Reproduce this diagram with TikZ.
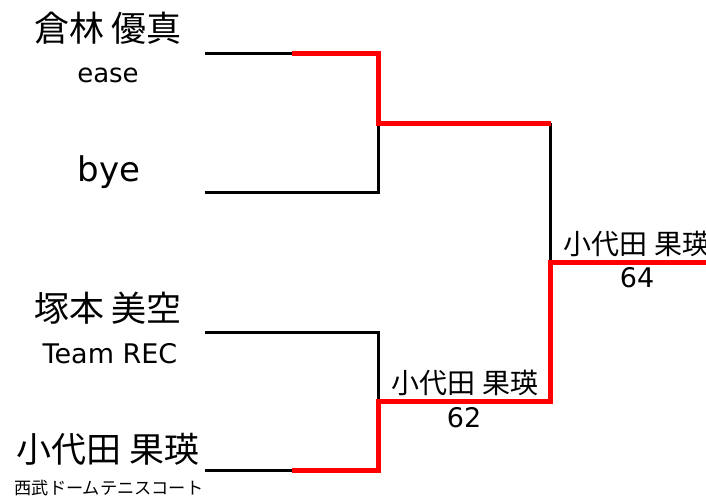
\documentclass[tikz,border=0pt]{standalone}
\usepackage{fontspec}
\setmainfont{Noto Sans CJK JP}
\newfontfamily\latinfont{DejaVu Sans}
\usepackage{tikz}
\usetikzlibrary{positioning}

\begin{document}
\begin{tikzpicture}[x=1pt,y=-1pt,
  player/.style={inner sep=0pt,font=\fontsize{35}{40}\selectfont},
  club/.style={inner sep=0pt,font=\latinfont\fontsize{26}{30}\selectfont},
  venue/.style={inner sep=0pt,font=\fontsize{17.2}{20}\selectfont},
  advance/.style={inner sep=0pt,font=\fontsize{28}{32}\selectfont},
  score/.style={inner sep=0pt,font=\latinfont\fontsize{27}{32}\selectfont},
  loser/.style={black,line width=3pt},
  winner/.style={red,line width=5pt}]
\useasboundingbox (0,0) rectangle (706,497);
% entries
\node [player] (kura) at (108,28) {倉林 優真};
\node [club] (kuraclub) at (108,75) {ease};
\node [player,font=\latinfont\fontsize{34}{40}\selectfont] (bye) at (109,172) {bye};
\node [player] (tsuka) at (108,308) {塚本 美空};
\node [club,font=\latinfont\fontsize{27}{30}\selectfont] (tsukaclub) at (110,354) {Team REC};
\node [player] (koyo) at (108,449) {小代田 果瑛};
\node [venue] (koyoclub) at (109,488) {西武ドームテニスコート};
% bracket points
\coordinate (p1) at (205,53.5);
\coordinate (p2) at (205,192);
\coordinate (p3) at (205,332.5);
\coordinate (p4) at (205,470.5);
\coordinate (h1) at (292,53.5);
\coordinate (h4) at (292,470.5);
\coordinate (m1) at (378.5,53.5);
\coordinate (m2) at (378.5,192);
\coordinate (m3) at (378.5,332.5);
\coordinate (m4) at (378.5,470.5);
\coordinate (r1) at (378.5,123.5);
\coordinate (r2) at (378.5,401);
\coordinate (s1) at (550.5,123.5);
\coordinate (s2) at (550.5,401);
\coordinate (f) at (550.5,262);
\coordinate (e) at (723,262);
% losing lines
\draw [loser] (p1) -- (h1);
\draw [loser] (p2) -- (m2) -- (r1);
\draw [loser] (p3) -- (m3) -- (r2);
\draw [loser] (p4) -- (h4);
\draw [loser] (s1) -- (f);
% winning lines
\draw [winner] (h1) -- (m1) -- (r1) -- (s1);
\draw [winner] (h4) -- (m4) -- (r2) -- (s2) -- (f) -- (e);
% results
\node [advance] (semi) at (465,382.5) {小代田 果瑛};
\node [score] (semiscore) at (464,418) {62};
\node [advance] (final) at (637,244) {小代田 果瑛};
\node [score] (finalscore) at (637,277.5) {64};
\end{tikzpicture}
\end{document}
